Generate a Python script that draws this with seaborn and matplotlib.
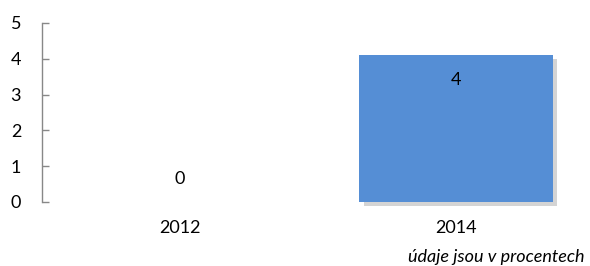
import matplotlib
matplotlib.use('Agg')
import matplotlib.pyplot as plt
import matplotlib.patheffects as pe
import seaborn as sns
import pandas as pd

# data
years = ['2012', '2014']
values = [0.0, 4.1]
labels = ['0', '4']
y_ticks = [0, 1, 2, 3, 4, 5]

df = pd.DataFrame({'year': years, 'value': values})

sns.set_theme(style="white")
plt.rcParams['font.family'] = ['Lato', 'DejaVu Sans']
fs = 13

fig = plt.figure(figsize=(5.9, 2.66), dpi=100)
ax = fig.add_axes([42 / 590, 64 / 266, 552 / 590, 179 / 266])

sns.barplot(data=df, x='year', y='value', color='#558ed5', saturation=1,
            width=0.70, edgecolor='none', linewidth=0, ax=ax)

for bar in ax.patches:
    bar.set_clip_on(False)
    bar.set_path_effects([pe.SimplePatchShadow(offset=(3, -3), shadow_rgbFace='#aaaaaa', alpha=0.5),
                          pe.Normal()])

# data labels
for i, (v, lab) in enumerate(zip(values, labels)):
    if v > 0.5:
        ax.text(i, v - 0.7, lab, ha='center', va='center', fontsize=fs, color='black')
    else:
        ax.text(i, v + 0.65, lab, ha='center', va='center', fontsize=fs, color='black')

ax.set_xlim(-0.5, 1.5)
ax.set_ylim(0, 5)
ax.set_yticks(y_ticks)
ax.set_xlabel('')
ax.set_ylabel('')

for s in ['top', 'right', 'bottom']:
    ax.spines[s].set_visible(False)
ax.spines['left'].set_color('#888888')
ax.spines['left'].set_linewidth(1.0)

ax.tick_params(axis='y', left=True, direction='in', length=5, width=1, color='#888888',
               pad=15, labelsize=fs, labelcolor='black')
ax.tick_params(axis='x', bottom=False, length=0, pad=13, labelsize=fs, labelcolor='black')
ax.grid(False)

fig.text(585 / 590, 1 - 257 / 266, 'údaje jsou v procentech', ha='right', va='center',
         fontsize=fs, style='italic', color='black')

fig.savefig('out.png', dpi=100)
